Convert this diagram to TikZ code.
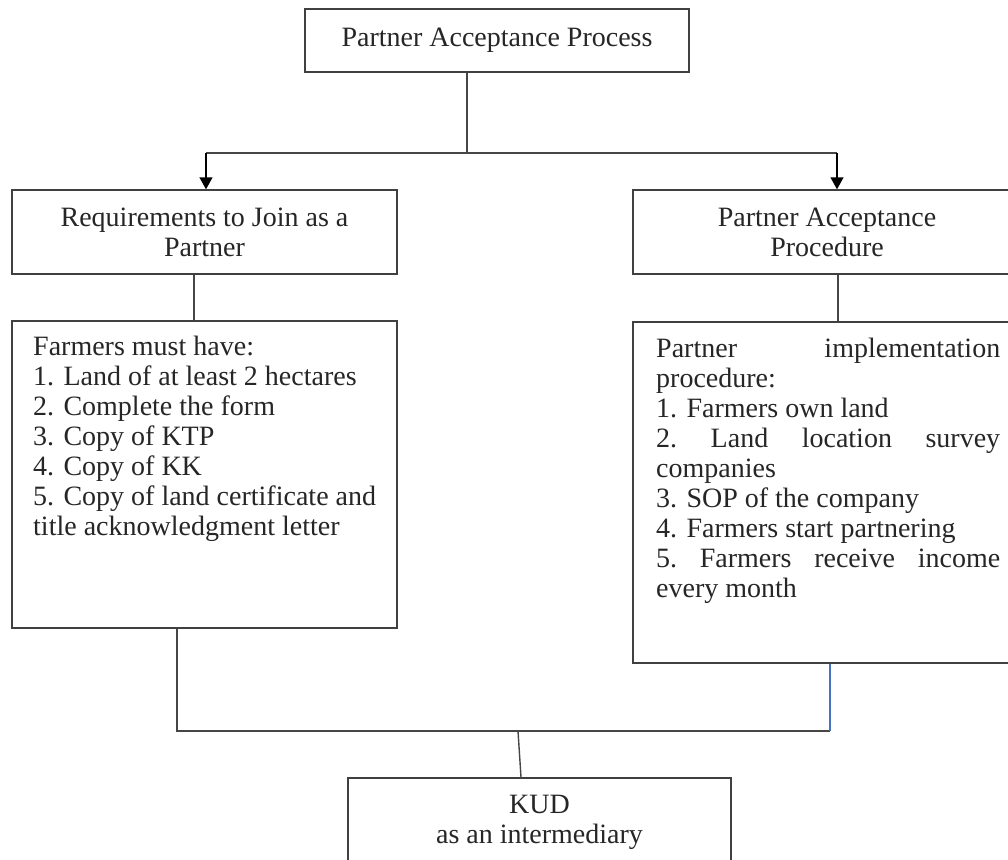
\documentclass[tikz,border=0pt]{standalone}
\usepackage{fontspec}
\setmainfont{Liberation Serif}
\usetikzlibrary{arrows.meta}
\definecolor{boxgray}{RGB}{64,64,64}
\definecolor{linegray}{RGB}{70,70,70}
\definecolor{wordblue}{RGB}{68,114,196}
\begin{document}
\begin{tikzpicture}[x=1pt,y=-1pt,
  txt/.style={font=\fontsize{28}{30}\selectfont, text=black!85},
  boxn/.style={draw=boxgray, line width=1.4pt, inner sep=0pt, txt},
  conn/.style={draw=linegray, line width=1.4pt},
  arr/.style={draw=black, line width=1.4pt, -{Triangle[width=13pt,length=12pt]}},
  blueline/.style={draw=wordblue, line width=1.1pt}]
\useasboundingbox (0,0) rectangle (1008,859);
\fill[white] (0,0) rectangle (1008,859);
\clip (0,0) rectangle (1008,859);

% boxes
\node[boxn, minimum width=384pt, minimum height=63pt, align=center] (top) at (497,40.5) {Partner Acceptance Process};
\node[boxn, minimum width=385pt, minimum height=84pt, align=center] (req) at (204.5,232) {Requirements to Join as a\\Partner};
\node[boxn, minimum width=388pt, minimum height=84pt, align=center] (proc) at (827,232) {Partner Acceptance\\Procedure};
\node[boxn, minimum width=385pt, minimum height=307pt] (farm) at (204.5,474.5) {};
\node[boxn, minimum width=388pt, minimum height=341pt] (impl) at (827,492.5) {};
\node[boxn, minimum width=383pt, minimum height=124pt] (kud) at (539.5,840) {};

% texts inside the tall boxes
\node[txt, anchor=base west, inner sep=0pt] (farmtxt) at (33,355) {\parbox[t]{342pt}{%
\hbox{Farmers must have:}%
\hbox{1. Land of at least 2 hectares}%
\hbox{2. Complete the form}%
\hbox{3. Copy of KTP}%
\hbox{4. Copy of KK}%
\hbox{5. Copy of land certificate and}%
\hbox{title acknowledgment letter}}};
\node[txt, anchor=base west, inner sep=0pt] (impltxt) at (656,357) {\parbox[t]{344pt}{%
\hbox to\linewidth{Partner\hfill implementation}%
\hbox{procedure:}%
\hbox{1. Farmers own land}%
\hbox to\linewidth{2.\hfill Land\hfill location\hfill survey}%
\hbox{companies}%
\hbox{3. SOP of the company}%
\hbox{4. Farmers start partnering}%
\hbox to\linewidth{5.\hfill Farmers\hfill receive\hfill income}%
\hbox{every month}}};
\node[txt, align=center, inner sep=0pt] (kudtxt) at (539.5,822) {KUD\\as an intermediary};

% connectors
\coordinate (j1) at (467,153);
\coordinate (jl) at (206,153);
\coordinate (jr) at (837,153);
\draw[conn] (j1 |- top.south) -- (j1);
\draw[conn] (jl) -- (jr);
\draw[arr] (jl) -- (jl |- req.north);
\draw[arr] (jr) -- (jr |- proc.north);
\draw[conn] ([xshift=-10.5pt]req.south) -- ([xshift=-10.5pt]farm.north);
\draw[conn] ([xshift=11pt]proc.south) -- ([xshift=11pt]impl.north);
\coordinate (br) at (830,731);
\coordinate (bk) at (518,731);
\draw[conn] ([xshift=-27.5pt]farm.south) |- (br);
\draw[blueline] (br) -- (br |- impl.south);
\draw[conn] (bk) -- ([xshift=-18.5pt]kud.north);
\end{tikzpicture}
\end{document}
